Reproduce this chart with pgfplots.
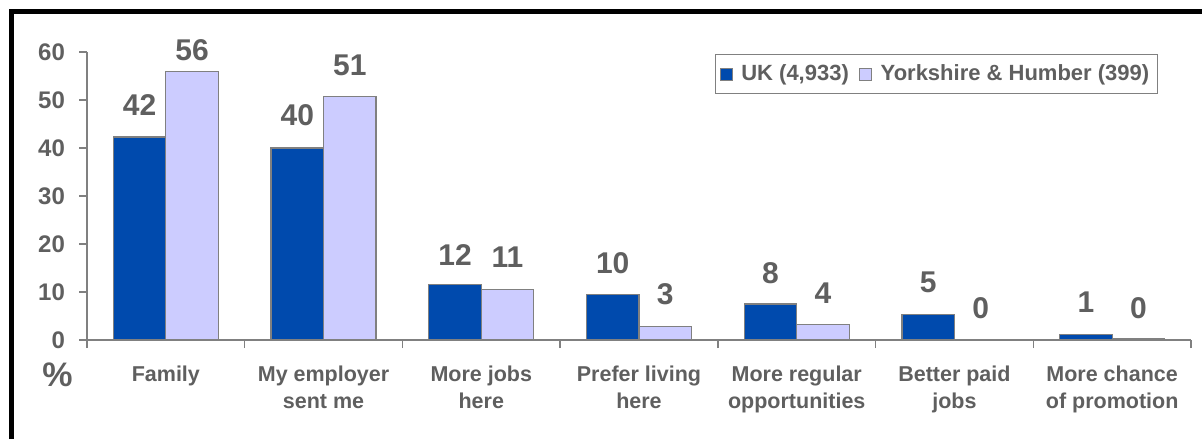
\documentclass[border=0pt]{standalone}
\usepackage{pgfplots}
\pgfplotsset{compat=1.18}
\usepackage{pgfplotstable}
\usepackage{fontspec}
\setmainfont{Liberation Sans}

\definecolor{ukblue}{HTML}{004AAD}
\definecolor{yhlilac}{HTML}{CCCCFF}
\definecolor{axisgray}{HTML}{808080}
\definecolor{textgray}{HTML}{5F5F5F}

% bar height, printed label, label offset above the bar (pt)
\pgfplotstableread{
x y lab dy
1 42.3 42 16
2 40.0 40 16.5
3 11.5 12 15
4 9.5 10 15.5
5 7.5 8 15.5
6 5.3 5 16
7 1.1 1 16.5
}\uk

\pgfplotstableread{
x y lab dy
1 56.0 56 10.5
2 50.8 51 15.5
3 10.6 11 16
4 2.8 3 16
5 3.3 4 15.5
6 0 0 16
7 0.35 0 15
}\yh

\begin{document}
\begin{tikzpicture}
\path[use as bounding box] (0,0) rectangle (601pt,219.5pt);
\draw[line width=2.5pt, line join=miter] (5.5pt,0pt) -- (5.5pt,213.75pt) -- (601pt,213.75pt);

\begin{axis}[
  at={(43.5pt,49.5pt)}, anchor=south west,
  scale only axis, width=552pt, height=144pt,
  ybar=0pt, bar width=26.25pt,
  xmin=0.5, xmax=7.5, ymin=0, ymax=60,
  clip=false,
  axis x line*=bottom, axis y line*=left,
  axis line style={draw=axisgray, line width=0.75pt},
  tick align=outside, major tick length=4pt,
  tick style={draw=axisgray, line width=0.75pt},
  ytick={0,10,...,60},
  yticklabel style={font=\fontsize{12}{14}\selectfont\bfseries, text=textgray, xshift=-3.5pt},
  /pgf/number format/assume math mode=true,
  xtick={0.5,1.5,...,7.5}, xticklabels={},
  extra x ticks={1,2,...,7},
  extra x tick labels={Family, My employer\\sent me, More jobs\\here, Prefer living\\here, More regular\\opportunities, Better paid\\jobs, More chance\\of promotion},
  extra x tick style={major tick length=0pt, tick style={draw=none},
    xticklabel style={align=center, anchor=north, yshift=-9.5pt,
      font=\fontsize{10.75}{13.3}\selectfont\bfseries, text=textgray}},
  nodes near coords,
  point meta=explicit symbolic,
  visualization depends on={\thisrow{dy} \as \labdy},
  every node near coord/.append style={anchor=center, yshift=\labdy pt,
    font=\fontsize{15}{17}\selectfont\bfseries, text=textgray},
  legend style={at={(0.970,0.993)}, anchor=north east, draw=axisgray, line width=0.6pt,
    legend columns=-1, font=\fontsize{11}{13}\selectfont\bfseries, text=textgray,
    inner xsep=2pt, inner ysep=3pt,
    /tikz/every odd column/.append style={column sep=2.5pt},
    /tikz/every even column/.append style={column sep=3pt}},
  legend image code/.code={\draw[#1, draw=axisgray, line width=0.4pt] (0pt,-3pt) rectangle (6pt,3pt);},
]
\addplot[fill=ukblue, draw=axisgray, line width=0.6pt] table[x=x, y=y, meta=lab] {\uk};
\addlegendentry{UK (4,933)}
\addplot[fill=yhlilac, draw=axisgray, line width=0.6pt] table[x=x, y=y, meta=lab] {\yh};
\addlegendentry{Yorkshire \& Humber (399)}
\end{axis}

\node[font=\fontsize{17}{17}\selectfont\bfseries, text=textgray] at (28.75pt,32pt) {\%};
\end{tikzpicture}
\end{document}
